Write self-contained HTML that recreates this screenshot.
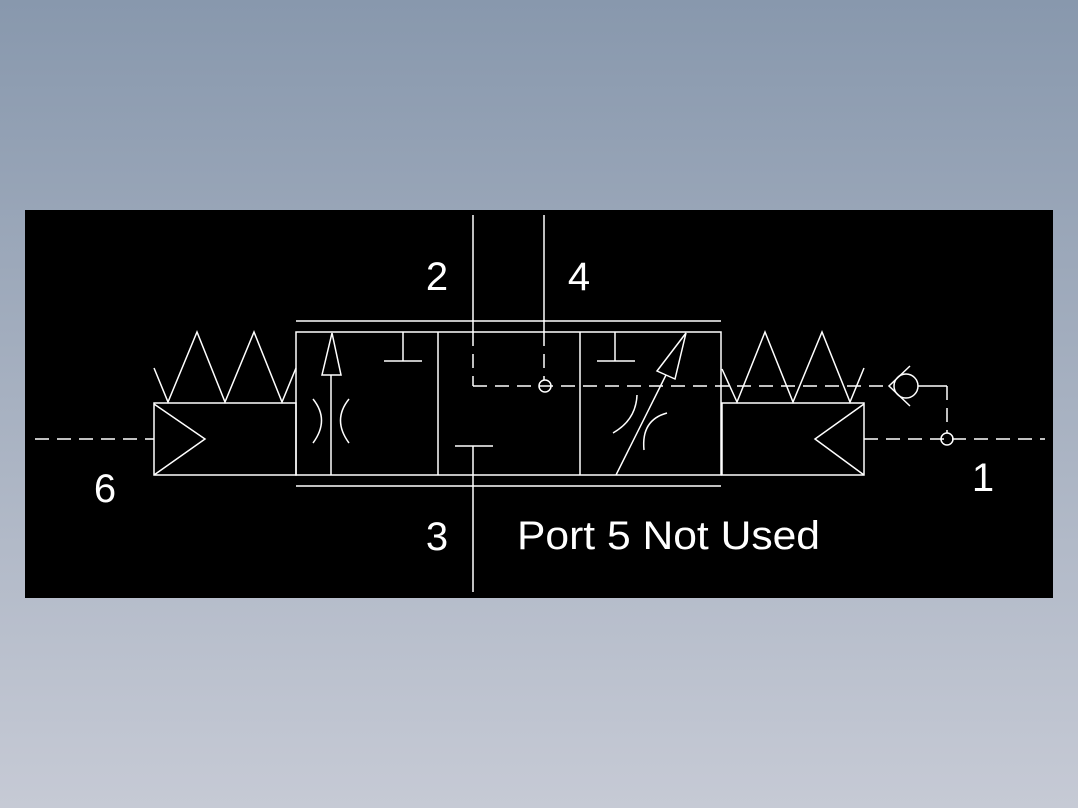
<!DOCTYPE html>
<html><head><style>
html,body{margin:0;padding:0;width:1078px;height:808px;overflow:hidden;background:linear-gradient(#8898ad,#c6cad5);}
svg{position:absolute;left:0;top:0}
</style></head><body>
<svg width="1078" height="808" viewBox="0 0 1078 808">
<rect x="25" y="210" width="1028" height="388" fill="#000"/>
<g stroke="#fff" stroke-width="1.5" fill="none">
<!-- left box -->
<rect x="154" y="403" width="142" height="72"/>
<polyline points="154,404 205,439 154,475"/>
<line x1="35" y1="439" x2="154" y2="439" stroke-dasharray="14,8"/>
<polyline points="154,368 168,402 197,332 225,402 254,332 282,402 296,368"/>
<!-- main -->
<rect x="296" y="332" width="425" height="143"/>
<line x1="438" y1="332" x2="438" y2="475"/>
<line x1="580" y1="332" x2="580" y2="475"/>
<line x1="296" y1="321" x2="721" y2="321"/>
<line x1="296" y1="486" x2="721" y2="486"/>
<!-- cell1 -->
<line x1="331" y1="375" x2="331" y2="475"/>
<polygon points="332,333 322,375 341,375"/>
<path d="M313,399 Q330,420 313,443"/>
<path d="M349,399 Q332,420 349,443"/>
<line x1="403" y1="332" x2="403" y2="361"/>
<line x1="384" y1="361" x2="422" y2="361"/>
<!-- center -->
<line x1="473" y1="215" x2="473" y2="332"/>
<line x1="544" y1="215" x2="544" y2="332"/>
<line x1="473" y1="332" x2="473" y2="386" stroke-dasharray="14,8"/>
<line x1="544" y1="332" x2="544" y2="380" stroke-dasharray="14,8"/>
<line x1="473" y1="386" x2="890" y2="386" stroke-dasharray="14,8"/>
<circle cx="545" cy="386" r="6"/>
<line x1="455" y1="446" x2="493" y2="446"/>
<line x1="473" y1="446" x2="473" y2="592"/>
<!-- cell3 -->
<line x1="615" y1="332" x2="615" y2="361"/>
<line x1="597" y1="361" x2="635" y2="361"/>
<line x1="616" y1="475" x2="666" y2="375"/>
<polygon points="686,333 657,371 675,379"/>
<path d="M613,433 Q636,420 637,395"/>
<path d="M644,450 Q641,420 667,413"/>
<!-- right box -->
<rect x="722" y="403" width="142" height="72"/>
<polyline points="864,404 815,439 864,475"/>
<polyline points="722,369 737,402 765,332 793,402 822,332 850,402 864,368"/>
<line x1="864" y1="439" x2="1045" y2="439" stroke-dasharray="14,8"/>
<circle cx="947" cy="439" r="6"/>
<!-- check valve -->
<circle cx="906" cy="386" r="12"/>
<polyline points="910,366 889,386 910,406"/>
<line x1="918" y1="386" x2="947" y2="386"/>
<line x1="947" y1="386" x2="947" y2="433" stroke-dasharray="14,8"/>
</g>
<g fill="#fff" font-family="Liberation Sans, sans-serif" font-size="40">
<text x="437" y="290" text-anchor="middle">2</text>
<text x="579" y="290" text-anchor="middle">4</text>
<text x="105" y="502" text-anchor="middle">6</text>
<text x="983" y="491" text-anchor="middle">1</text>
<text x="437" y="550" text-anchor="middle">3</text>
<text x="517" y="549" textLength="303" lengthAdjust="spacingAndGlyphs">Port 5 Not Used</text>
</g>
</svg>
</body></html>
